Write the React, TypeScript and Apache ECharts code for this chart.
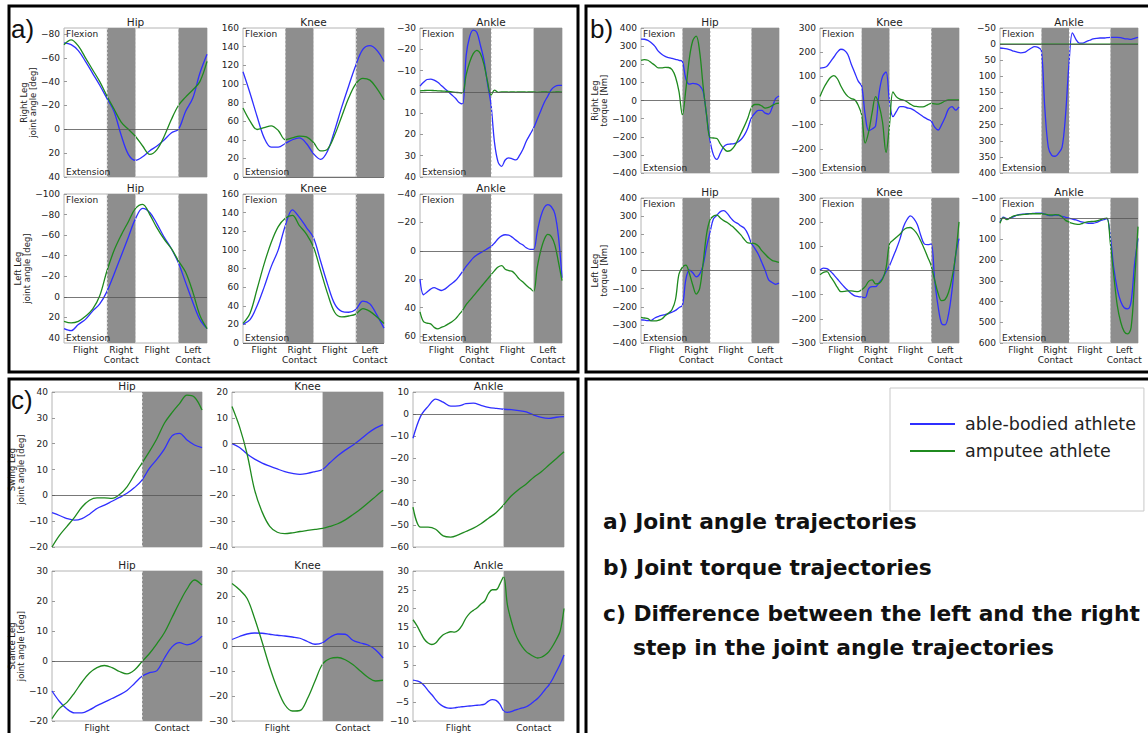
import React, { useEffect, useRef } from "react";
import * as echarts from "echarts";

// ---------- categories / labels ----------
const jointTitles = ["Hip", "Knee", "Ankle"];
const phaseLabelsAB = ["Flight", "Right\nContact", "Flight", "Left\nContact"];
const phasePosAB = [15, 40, 65, 90];
const phaseLabelsC = ["Flight", "Contact"];
const phasePosC = [30, 80];
const contactAB = [[30, 50], [80, 100]];
const contactC = [[60, 100]];
const seriesNames = ["able-bodied athlete", "amputee athlete"];

// ---------- tick labels ----------
const ticksA1Hip = [-80, -60, -40, -20, 0, 20, 40];
const ticksKneeA = [0, 20, 40, 60, 80, 100, 120, 140, 160];
const ticksA1Ankle = [-30, -20, -10, 0, 10, 20, 30, 40];
const ticksA2Hip = [-100, -80, -60, -40, -20, 0, 20, 40];
const ticksA2Ankle = [-40, -20, 0, 20, 40, 60];
const ticksHipB = [-400, -300, -200, -100, 0, 100, 200, 300, 400];
const ticksKneeB = [-300, -200, -100, 0, 100, 200, 300];
const ticksB1Ankle = [-50, 0, 50, 100, 150, 200, 250, 300, 350, 400];
const ticksB2Ankle = [-100, 0, 100, 200, 300, 400, 500, 600];
const ticksC1Hip = [-20, -10, 0, 10, 20, 30, 40];
const ticksC1Knee = [-40, -30, -20, -10, 0, 10, 20];
const ticksC1Ankle = [-60, -50, -40, -30, -20, -10, 0, 10];
const ticksC2Hip = [-20, -10, 0, 10, 20, 30];
const ticksC2Knee = [-30, -20, -10, 0, 10, 20, 30];
const ticksC2Ankle = [-10, -5, 0, 5, 10, 15, 20, 25, 30];

// ---------- series values (evenly spaced over the stride, 0..100 %) ----------
// a) joint angles, right leg
const a1HipAble = [-72.5, -71, -66, -57, -47, -37, -26, -15, 5, 21, 26, 23, 18, 14, 9, 3, 0, -15, -26, -47, -63];
const a1HipAmp = [-71, -75, -70, -60, -50, -40, -28, -17, -6, 0, 6, 14, 21, 17, 6, -8, -20, -27, -33, -40, -57];
const a1KneeAble = [113, 90, 65, 42, 32, 32, 36, 40, 42, 36, 25, 19, 28, 50, 75, 98, 120, 137, 141, 136, 124];
const a1KneeAmp = [74, 60, 51, 53, 55, 50, 40, 42, 44, 43, 37, 28, 30, 45, 65, 85, 100, 106, 104, 95, 83];
const a1AnkleAble = [-2.7, -4.5, -5.8, -6, -5.5, -4.5, -3, -1.5, 0, 1.5, 3, 5, 5.7, -17, -26, -29, -28, -22, -15, -4, 6, 24, 33, 35, 32, 31, 31.5, 32, 30, 27, 23, 20, 17, 13, 9, 5, 2, -1, -2.5, -3, -3];
const a1AnkleAmp = [-0.5, -0.6, -0.7, -0.7, -0.6, -0.5, -0.4, -0.3, -0.2, 0, 0.2, 0.4, 0.6, -8, -14, -18, -19.5, -18, -13, -5, 1.5, -0.8, 0.2, 0, 0, 0.1, 0, 0.1, 0, 0, 0.1, 0, 0, 0.2, 0.1, 0, 0.1, 0.2, 0.1, 0, 0.1];
// a) joint angles, left leg
const a2HipAble = [31, 33, 27, 22, 14, 7, -5, -22, -40, -58, -76, -86, -82, -71, -58, -47, -33, -14, 5, 22, 31];
const a2HipAmp = [24, 25.5, 24, 19, 12, -1, -25, -45, -60, -73, -86, -90, -80, -67, -56, -47, -35, -24, -5, 18, 31];
const a2KneeAble = [20, 25, 40, 60, 82, 100, 126, 143, 135, 124, 113, 88, 63, 42, 34, 33, 36, 45, 42, 30, 16];
const a2KneeAmp = [21, 32, 58, 85, 108, 125, 134, 137, 126, 117, 103, 78, 53, 33, 28, 29, 31, 37, 34, 28, 21];
const a2AnkleAble = [20, 31, 29, 27, 26, 27, 28, 27, 25, 23, 21, 18, 14.5, 11, 8, 5, 3, 1.5, 0, -1.5, -3, -5.5, -8.5, -10.5, -11.3, -11, -9.5, -7.5, -5.5, -4, -2, -1, -1, -13, -24, -30.5, -32.5, -31, -26, -10, 19];
const a2AnkleAmp = [43, 50, 51, 51.5, 54, 55, 54, 53, 51.5, 50, 48, 45, 42, 38, 35, 32, 29, 26, 23, 20, 17, 14, 11.5, 10.5, 13, 14, 14.5, 17, 20, 22, 24.5, 26.5, 28.7, 12, 0, -8, -11.5, -10, -4, 8, 21];
// b) joint torques, right leg
const b1HipAble = [339, 338, 332, 318, 300, 272, 255, 243, 237, 232, 227, 222, 215, 120, 90, 95, 92, 82, 50, -80, -220, -300, -325, -290, -255, -242, -240, -238, -230, -215, -190, -150, -95, -70, -55, -55, -70, -75, -40, 10, 25];
const b1HipAmp = [221, 226, 222, 208, 195, 180, 180, 183, 182, 170, 130, 50, -80, 60, 230, 330, 355, 270, 80, -80, -205, -207, -210, -240, -265, -280, -275, -255, -220, -180, -140, -95, -40, -22, -22, -30, -42, -38, -28, -18, -14];
const b1KneeAble = [134, 136, 142, 160, 180, 200, 212, 208, 190, 150, 115, 80, 60, -60, -125, -118, -105, 30, 100, 118, -5, -67, -45, -25, -25, -30, -33, -40, -50, -60, -70, -78, -85, -110, -122, -100, -70, -35, -25, -40, -26];
const b1KneeAmp = [17, 50, 75, 95, 103, 90, 60, 35, 17, 8, 3, -20, -60, -176, -130, -50, 16, -20, -90, -215, -100, 36, 15, 6, 2, -5, -15, -23, -25, -26, -25, -18, -12, -14, -15, -10, -2, 2, 2, 2, 2];
const b1AnkleAble = [12, 13, 15, 18, 22, 25, 27, 26, 20, 13, 8, 10, 20, 200, 320, 345, 348, 338, 320, 220, 60, -35, -15, -3, -3, -8, -12, -16, -18, -19, -19, -20, -21, -21, -21, -20, -17, -16, -15, -18, -21];
const b1AnkleAmp = [0, 0, 0, 0, 0, 0, 0, 0, 0, 0, 0, 0, 0, 0, 0, 0, 0, 0, 0, 0, 0];
// b) joint torques, left leg
const b2HipAble = [-272, -274, -276, -275, -262, -254, -248, -243, -238, -230, -220, -205, -193, -50, 3, -12, -35, -20, 30, 130, 210, 285, 305, 325, 330, 315, 290, 270, 260, 245, 232, 200, 150, 122, 90, 45, 0, -52, -66, -76, -70];
const b2HipAmp = [-259, -262, -265, -278, -278, -275, -268, -250, -235, -215, -160, -20, 18, 30, -15, -80, -130, -100, 40, 200, 280, 300, 305, 290, 275, 265, 250, 235, 215, 195, 170, 152, 151, 148, 135, 110, 90, 70, 56, 50, 45];
const b2KneeAble = [2, 10, 8, -3, -18, -35, -52, -68, -82, -95, -105, -108, -110, -112, -75, -67, -67, -50, -32, -5, 20, 55, 90, 130, 180, 210, 226, 215, 190, 145, 110, 107, 110, -40, -150, -220, -225, -180, -80, 60, 132];
const b2KneeAmp = [-18, -8, -5, -25, -46, -70, -87, -86, -84, -84, -86, -87, -80, -67, -45, -39, -55, -53, -35, 10, 110, 125, 138, 150, 167, 176, 178, 168, 150, 122, 90, 55, 20, -40, -95, -125, -120, -90, -30, 60, 201];
const b2AnkleAble = [17, -8, 0, -3, -10, -17, -21, -22, -24, -25, -26, -27, -27, -22, -16, -15, -17, -16, -11, -7, -3, 2, 6, 12, 17, 20, 22, 22, 18, 10, 5, -1, 90, 240, 340, 400, 430, 435, 400, 220, 95];
const b2AnkleAmp = [22, -5, 4, -5, -14, -17, -19, -21, -22, -24, -24, -24, -24, -22, -19, -18, -20, -18, -8, 8, 16, 22, 26, 27, 22, 16, 14, 13, 11, 6, 0, -3, 120, 275, 420, 500, 545, 556, 525, 300, 38];
// c) left-right step differences, swing leg
const c1HipAble = [-6.7, -7.8, -9, -9.6, -9, -7.3, -5.1, -3.8, -2.3, -0.8, 0.8, 3, 5.9, 10.5, 14, 18, 23, 24, 21.4, 19.5, 18.5];
const c1HipAmp = [-20, -15.5, -12, -8.5, -4.5, -1.9, -1, -1, -1.2, 0.3, 3.3, 8, 12.5, 17, 22, 28, 32, 35.5, 38.8, 38, 33];
const c1KneeAble = [0, -1.5, -4, -6, -7.5, -8.7, -9.8, -10.8, -11.5, -11.9, -11.5, -10.8, -10, -7.3, -4.7, -2.5, -0.6, 1.6, 4, 6, 7.4];
const c1KneeAmp = [14.4, 6.5, -4, -18, -26.5, -32, -34.3, -34.8, -34.5, -34, -33.6, -33.2, -32.8, -32, -31, -29.5, -27.5, -25.4, -23, -20.5, -18];
const c1AnkleAble = [-10.9, -1, 3.5, 6.8, 5.4, 3.6, 3.7, 4.7, 5, 4, 3.1, 2.6, 2.2, 2, 1.6, 1, -0.4, -1.5, -1.9, -1.4, -1.1];
const c1AnkleAmp = [-42, -51, -51, -52, -55, -55.5, -54.5, -53, -51.5, -49.5, -47, -44.5, -41, -37, -34, -31.5, -28.5, -26, -23, -20, -17];
// c) left-right step differences, stance leg
const c2HipAble = [-10, -13.5, -16, -17.3, -17.3, -16.3, -14.9, -13.7, -12.5, -11.3, -9.8, -7.5, -5.1, -3.9, -3.2, 1, 4.7, 6.1, 5.4, 6.2, 8.3];
const c2HipAmp = [-19.2, -15.8, -13.8, -10.6, -7, -4, -2.2, -1.5, -2.2, -3.5, -4.3, -3, -0.2, 2.5, 5.8, 9.5, 14.5, 19.5, 24, 27, 25.3];
const c2KneeAble = [2.6, 3.8, 4.8, 5.2, 5.1, 4.7, 4.3, 4, 3.6, 3.1, 1.8, 0.7, 1.3, 3.5, 4.8, 4.7, 2.3, 1.2, 0.4, -1.5, -4.8];
const c2KneeAmp = [25, 22.5, 19, 11, 1.5, -8.5, -17, -23.5, -26, -25.8, -21, -14, -7.2, -5, -4.6, -5.5, -7.4, -10, -12.5, -14, -13.7];
const c2AnkleAble = [0.9, 0.7, 0.3, -0.6, -1.9, -3, -4.3, -5.4, -6.1, -6.5, -6.6, -6.5, -6.3, -6.2, -6.1, -6, -5.9, -5.8, -5.7, -5.5, -4.7, -4.3, -4.5, -5.5, -7.3, -7.7, -7.5, -7.1, -6.8, -6.5, -6.2, -5.6, -4.8, -4, -2.9, -1.6, -0.4, 1.2, 3.2, 5.2, 7.6];
const c2AnkleAmp = [17, 15.5, 13.6, 11.8, 10.8, 10.4, 10.8, 12, 13, 13.5, 13.8, 13.7, 14.2, 15.5, 17.4, 18.7, 19.5, 20.2, 21.2, 22, 24, 25, 25, 26.5, 28.5, 21, 16.8, 13.5, 11.3, 9.7, 8.5, 7.8, 7.2, 6.8, 7, 7.6, 8.5, 10, 11.8, 14, 20];

// ---------- caption ----------
const captionLines = [
  "a) Joint angle trajectories",
  "b) Joint torque trajectories",
  "c) Difference between the left and the right",
  "step in the joint angle trajectories",
];

// ---------- layout ----------
const BLUE = "#2f2fff";
const GREEN = "#1f8a1f";
const SHADE = "#8e8e8e";

type Plot = {
  left: number; top: number; width: number; height: number;
  title: string; min: number; max: number; ticks: number[]; inverse: boolean;
  able: number[]; amp: number[]; shade: number[][];
  xPos?: number[]; xLabels?: string[]; yName?: string; nameGap?: number; flexExt: boolean;
};

const colA = [64, 243, 420];
const wA = [143, 141, 142];
const colB = [641, 820, 1000];
const wB = [138, 139, 138];
const colC = [52, 232, 413];
const wC = [150, 151, 151];

const plots: Plot[] = [
  // a) row 1
  { left: colA[0], top: 28, width: wA[0], height: 149, title: jointTitles[0], min: -85, max: 40, ticks: ticksA1Hip, inverse: true, able: a1HipAble, amp: a1HipAmp, shade: contactAB, yName: "Right Leg\njoint angle [deg]", nameGap: 23, flexExt: true },
  { left: colA[1], top: 28, width: wA[1], height: 149, title: jointTitles[1], min: 0, max: 160, ticks: ticksKneeA, inverse: false, able: a1KneeAble, amp: a1KneeAmp, shade: contactAB, flexExt: true },
  { left: colA[2], top: 28, width: wA[2], height: 149, title: jointTitles[2], min: -30, max: 40, ticks: ticksA1Ankle, inverse: true, able: a1AnkleAble, amp: a1AnkleAmp, shade: contactAB, flexExt: true },
  // a) row 2
  { left: colA[0], top: 194, width: wA[0], height: 149, title: jointTitles[0], min: -100, max: 45, ticks: ticksA2Hip, inverse: true, able: a2HipAble, amp: a2HipAmp, shade: contactAB, xPos: phasePosAB, xLabels: phaseLabelsAB, yName: "Left Leg\njoint angle [deg]", nameGap: 27, flexExt: true },
  { left: colA[1], top: 194, width: wA[1], height: 149, title: jointTitles[1], min: 0, max: 160, ticks: ticksKneeA, inverse: false, able: a2KneeAble, amp: a2KneeAmp, shade: contactAB, xPos: phasePosAB, xLabels: phaseLabelsAB, flexExt: true },
  { left: colA[2], top: 194, width: wA[2], height: 149, title: jointTitles[2], min: -40, max: 65, ticks: ticksA2Ankle, inverse: true, able: a2AnkleAble, amp: a2AnkleAmp, shade: contactAB, xPos: phasePosAB, xLabels: phaseLabelsAB, flexExt: true },
  // b) row 1
  { left: colB[0], top: 28, width: wB[0], height: 145, title: jointTitles[0], min: -400, max: 400, ticks: ticksHipB, inverse: false, able: b1HipAble, amp: b1HipAmp, shade: contactAB, yName: "Right Leg\ntorque [Nm]", nameGap: 28, flexExt: true },
  { left: colB[1], top: 28, width: wB[1], height: 145, title: jointTitles[1], min: -300, max: 300, ticks: ticksKneeB, inverse: false, able: b1KneeAble, amp: b1KneeAmp, shade: contactAB, flexExt: true },
  { left: colB[2], top: 28, width: wB[2], height: 145, title: jointTitles[2], min: -50, max: 400, ticks: ticksB1Ankle, inverse: true, able: b1AnkleAble, amp: b1AnkleAmp, shade: contactAB, flexExt: true },
  // b) row 2
  { left: colB[0], top: 198, width: wB[0], height: 145, title: jointTitles[0], min: -400, max: 400, ticks: ticksHipB, inverse: false, able: b2HipAble, amp: b2HipAmp, shade: contactAB, xPos: phasePosAB, xLabels: phaseLabelsAB, yName: "Left Leg\ntorque [Nm]", nameGap: 28, flexExt: true },
  { left: colB[1], top: 198, width: wB[1], height: 145, title: jointTitles[1], min: -300, max: 300, ticks: ticksKneeB, inverse: false, able: b2KneeAble, amp: b2KneeAmp, shade: contactAB, xPos: phasePosAB, xLabels: phaseLabelsAB, flexExt: true },
  { left: colB[2], top: 198, width: wB[2], height: 145, title: jointTitles[2], min: -100, max: 600, ticks: ticksB2Ankle, inverse: true, able: b2AnkleAble, amp: b2AnkleAmp, shade: contactAB, xPos: phasePosAB, xLabels: phaseLabelsAB, flexExt: true },
  // c) row 1
  { left: colC[0], top: 392, width: wC[0], height: 155, title: jointTitles[0], min: -20, max: 40, ticks: ticksC1Hip, inverse: false, able: c1HipAble, amp: c1HipAmp, shade: contactC, yName: "Swing Leg\njoint angle [deg]", nameGap: 25, flexExt: false },
  { left: colC[1], top: 392, width: wC[1], height: 155, title: jointTitles[1], min: -40, max: 20, ticks: ticksC1Knee, inverse: false, able: c1KneeAble, amp: c1KneeAmp, shade: contactC, flexExt: false },
  { left: colC[2], top: 392, width: wC[2], height: 155, title: jointTitles[2], min: -60, max: 10, ticks: ticksC1Ankle, inverse: false, able: c1AnkleAble, amp: c1AnkleAmp, shade: contactC, flexExt: false },
  // c) row 2
  { left: colC[0], top: 571, width: wC[0], height: 153, title: jointTitles[0], min: -20, max: 30, ticks: ticksC2Hip, inverse: false, able: c2HipAble, amp: c2HipAmp, shade: contactC, xPos: phasePosC, xLabels: phaseLabelsC, yName: "Stance Leg\njoint angle [deg]", nameGap: 25, flexExt: false },
  { left: colC[1], top: 571, width: wC[1], height: 153, title: jointTitles[1], min: -30, max: 30, ticks: ticksC2Knee, inverse: false, able: c2KneeAble, amp: c2KneeAmp, shade: contactC, xPos: phasePosC, xLabels: phaseLabelsC, flexExt: false },
  { left: colC[2], top: 571, width: wC[2], height: 153, title: jointTitles[2], min: -10, max: 30, ticks: ticksC2Ankle, inverse: false, able: c2AnkleAble, amp: c2AnkleAmp, shade: contactC, xPos: phasePosC, xLabels: phaseLabelsC, flexExt: false },
];

const toPairs = (ys: number[]) => ys.map((y, i) => [(i * 100) / (ys.length - 1), y]);
const fmtNum = (v: number) => (v < 0 ? "\u2212" + Math.abs(v) : String(v));
const FONT = "DejaVu Sans";

function buildOption() {
  const grid: any[] = [];
  const xAxis: any[] = [];
  const yAxis: any[] = [];
  const series: any[] = [];
  const graphic: any[] = [];

  plots.forEach((p, i) => {
    grid.push({ left: p.left, top: p.top, width: p.width, height: p.height, show: true, borderColor: "#b4b4b4", borderWidth: 1, backgroundColor: "transparent" });
    const labelMap: Record<string, string> = {};
    (p.xPos || []).forEach((v, k) => { labelMap[String(v)] = (p.xLabels as string[])[k]; });
    xAxis.push({
      gridIndex: i, type: "value", min: 0, max: 100,
      axisLine: { show: false }, axisTick: { show: false }, splitLine: { show: false },
      axisLabel: {
        show: !!p.xPos, customValues: p.xPos || [], formatter: (v: number) => labelMap[String(v)] || "",
        fontSize: 9, lineHeight: 10, color: "#222", margin: 2, fontFamily: FONT, hideOverlap: false,
      },
    });
    yAxis.push({
      gridIndex: i, type: "value", min: p.min, max: p.max, inverse: p.inverse,
      axisLine: { show: false }, splitLine: { show: false },
      axisTick: { show: true, inside: true, length: 3, customValues: p.ticks, lineStyle: { color: "#999" } },
      axisLabel: { customValues: p.ticks, formatter: fmtNum, fontSize: 9, color: "#222", margin: 4, fontFamily: FONT, showMinLabel: true, showMaxLabel: true },
      name: p.yName || "", nameLocation: "middle", nameRotate: 90, nameGap: p.nameGap || 20,
      nameTextStyle: { fontSize: 8.5, lineHeight: 9, color: "#222", fontFamily: FONT, align: "center" },
    });
    const edges: number[] = [];
    p.shade.forEach(([a, b]) => { edges.push(a); if (b < 100) edges.push(b); });
    series.push({
      type: "line", name: "shade" + i, xAxisIndex: i, yAxisIndex: i, data: [], silent: true, z: 1,
      markArea: { silent: true, itemStyle: { color: SHADE }, data: p.shade.map(([a, b]) => [{ xAxis: a }, { xAxis: b }]) },
      markLine: {
        silent: true, symbol: ["none", "none"], label: { show: false },
        data: [
          ...edges.map((x) => ({ xAxis: x, lineStyle: { color: "#cfcfcf", width: 0.8, type: [2, 2] } })),
          { yAxis: 0, lineStyle: { color: "#555", width: 0.8, type: "solid" } },
        ],
      },
    });
    series.push({
      type: "line", name: seriesNames[0], xAxisIndex: i, yAxisIndex: i, data: toPairs(p.able),
      smooth: 0.35, symbol: "none", showSymbol: false, z: 3, lineStyle: { color: BLUE, width: 1.3 }, itemStyle: { color: BLUE },
    });
    series.push({
      type: "line", name: seriesNames[1], xAxisIndex: i, yAxisIndex: i, data: toPairs(p.amp),
      smooth: 0.35, symbol: "none", showSymbol: false, z: 3, lineStyle: { color: GREEN, width: 1.3 }, itemStyle: { color: GREEN },
    });
    graphic.push({ type: "text", x: p.left + p.width / 2, y: p.top - 1, z: 10, style: { text: p.title, fontSize: 10.5, fill: "#222", fontFamily: FONT, textAlign: "center", textVerticalAlign: "bottom" } });
    if (p.flexExt) {
      graphic.push({ type: "text", x: p.left + 2, y: p.top + 1, z: 10, style: { text: "Flexion", fontSize: 9, fill: "#222", fontFamily: FONT, textVerticalAlign: "top" } });
      graphic.push({ type: "text", x: p.left + 2, y: p.top + p.height - 1, z: 10, style: { text: "Extension", fontSize: 9, fill: "#222", fontFamily: FONT, textVerticalAlign: "bottom" } });
    }
  });

  // panel frames
  const frames = [
    [9, 6, 569, 366],
    [586, 6, 570, 366],
    [9, 379, 569, 360],
    [586, 379, 570, 360],
  ];
  frames.forEach(([x, y, w, h]) => {
    graphic.push({ type: "rect", z: 20, shape: { x, y, width: w, height: h }, style: { fill: "none", stroke: "#000", lineWidth: 3 } });
  });
  // panel letters
  [["a)", 11, 29], ["b)", 590, 29], ["c)", 11, 400]].forEach(([t, x, y]) => {
    graphic.push({ type: "text", x, y, z: 20, style: { text: t, fontSize: 26, fill: "#111", fontFamily: "Liberation Sans", textVerticalAlign: "middle" } });
  });
  // caption
  const capPos = [[603, 521], [603, 567], [603, 613], [633, 647]];
  captionLines.forEach((t, k) => {
    graphic.push({ type: "text", x: capPos[k][0], y: capPos[k][1], z: 20, style: { text: t, fontSize: 21.75, fontWeight: "bold", fill: "#111", fontFamily: "DejaVu Sans", textVerticalAlign: "middle" } });
  });

  return {
    animation: false,
    backgroundColor: "#ffffff",
    textStyle: { fontFamily: FONT },
    grid, xAxis, yAxis, series, graphic,
    legend: {
      data: seriesNames, orient: "vertical", left: 890, top: 388,
      padding: [26, 8, 50, 20], itemWidth: 45, itemHeight: 2, itemGap: 7, icon: "rect",
      borderColor: "#c8c8c8", borderWidth: 1, backgroundColor: "#fff",
      textStyle: { fontSize: 17.5, lineHeight: 20, color: "#222", fontFamily: FONT, padding: [0, 0, 0, 5] },
    },
  };
}

export default function App() {
  const ref = useRef<HTMLDivElement>(null);
  useEffect(() => {
    if (!ref.current) return;
    const chart = echarts.init(ref.current, undefined, { renderer: "svg" });
    chart.setOption(buildOption() as any);
    return () => chart.dispose();
  }, []);
  return <div ref={ref} style={{ position: "absolute", left: 0, top: 0, width: 1148, height: 733 }} />;
}
